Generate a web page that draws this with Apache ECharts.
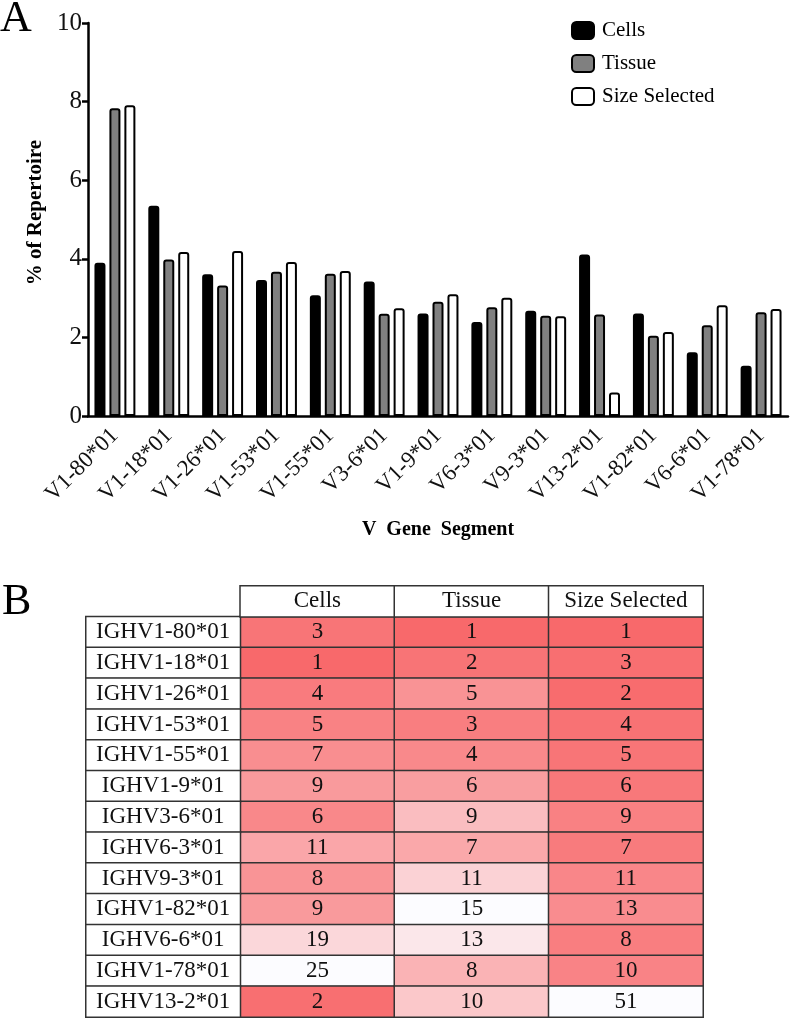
<!DOCTYPE html>
<html>
<head>
<meta charset="utf-8">
<script src="https://cdn.jsdelivr.net/npm/echarts@6/dist/echarts.min.js"></script>
<style>
  html, body { margin: 0; padding: 0; background: #fff; }
  #app { width: 793px; height: 1020px; }
</style>
</head>
<body>
<div id="app"></div>
<script>
// panel A: % of repertoire per V gene segment
const segments = ['V1-80*01', 'V1-18*01', 'V1-26*01', 'V1-53*01', 'V1-55*01', 'V3-6*01', 'V1-9*01',
  'V6-3*01', 'V9-3*01', 'V13-2*01', 'V1-82*01', 'V6-6*01', 'V1-78*01']
const cellsPct = [3.90, 5.35, 3.61, 3.46, 3.07, 3.42, 2.61, 2.39, 2.68, 4.11, 2.61, 1.62, 1.28]
const tissuePct = [7.83, 3.98, 3.32, 3.67, 3.62, 2.60, 2.91, 2.77, 2.55, 2.58, 2.04, 2.31, 2.64]
const sizePct = [7.91, 4.17, 4.20, 3.92, 3.69, 2.74, 3.10, 3.01, 2.54, 0.60, 2.14, 2.82, 2.72]
const yTicks = [0, 2, 4, 6, 8, 10]

// panel B: rank table
const rowNames = ['IGHV1-80*01', 'IGHV1-18*01', 'IGHV1-26*01', 'IGHV1-53*01', 'IGHV1-55*01', 'IGHV1-9*01',
  'IGHV3-6*01', 'IGHV6-3*01', 'IGHV9-3*01', 'IGHV1-82*01', 'IGHV6-6*01', 'IGHV1-78*01', 'IGHV13-2*01']
const colNames = ['Cells', 'Tissue', 'Size Selected']
const cellsRank = [3, 1, 4, 5, 7, 9, 6, 11, 8, 9, 19, 25, 2]
const tissueRank = [1, 2, 5, 3, 4, 6, 9, 7, 11, 15, 13, 8, 10]
const sizeRank = [1, 3, 2, 4, 5, 6, 9, 7, 11, 13, 8, 10, 51]

const serif = 'Liberation Serif'
const rankCols = [cellsRank, tissueRank, sizeRank]

function barSeries(name, data, fill) {
  return {
    name,
    type: 'bar',
    xAxisIndex: 0,
    yAxisIndex: 0,
    barWidth: 11,
    barGap: '36%',
    itemStyle: { color: fill, borderColor: '#000', borderWidth: 2, borderRadius: [2, 2, 0, 0] },
    data,
  }
}

const cellStyle = { borderColor: '#333', borderWidth: 1.5 }
const cellLabel = { show: true, color: '#111', fontFamily: serif, fontSize: 23 }

const rankSeries = rankCols.map((col, c) => ({
  name: colNames[c] + ' rank',
  type: 'heatmap',
  xAxisIndex: 1,
  yAxisIndex: 1,
  itemStyle: cellStyle,
  label: cellLabel,
  emphasis: { disabled: true },
  data: col.map((v, i) => [c + 1, i + 1, v]),
}))

const chart = echarts.init(document.getElementById('app'))
chart.setOption({
  animation: false,
  textStyle: { fontFamily: serif },
  graphic: [
    { type: 'text', left: 0, top: -3, style: { text: 'A', font: '44px "Liberation Serif"', fill: '#000' } },
    { type: 'text', left: 2, top: 580, style: { text: 'B', font: '44px "Liberation Serif"', fill: '#000' } },
  ],
  legend: {
    data: ['Cells', 'Tissue', 'Size Selected'],
    orient: 'vertical',
    left: 566,
    top: 15,
    itemWidth: 22,
    itemHeight: 17,
    itemGap: 12,
    textStyle: { fontFamily: serif, fontSize: 21, color: '#000', padding: [0, 0, 0, 3] },
  },
  grid: [
    { left: 88, right: 5, top: 23, height: 393 },
    { left: 86, top: 586, width: 617, height: 431 },
  ],
  xAxis: [
    {
      type: 'category',
      gridIndex: 0,
      data: segments,
      name: 'V  Gene  Segment',
      nameLocation: 'middle',
      nameGap: 104,
      nameTextStyle: { fontFamily: serif, fontSize: 20, fontWeight: 'bold', color: '#000' },
      axisLine: { lineStyle: { color: '#000', width: 2.5 } },
      axisTick: { alignWithLabel: true, length: 6, lineStyle: { width: 2.5, color: '#000' } },
      axisLabel: { rotate: 45, margin: 16, fontFamily: serif, fontSize: 23, color: '#111', interval: 0 },
    },
    { type: 'category', gridIndex: 1, data: [''].concat(colNames), show: false },
  ],
  yAxis: [
    {
      type: 'value',
      gridIndex: 0,
      min: yTicks[0],
      max: yTicks[yTicks.length - 1],
      interval: 2,
      name: '% of Repertoire',
      nameLocation: 'middle',
      nameGap: 35,
      nameTextStyle: { fontFamily: serif, fontSize: 21, fontWeight: 'bold', color: '#000', padding: [0, 0, 0, 14] },
      axisLine: { show: true, lineStyle: { color: '#000', width: 2.5 } },
      axisTick: { show: true, length: 6, lineStyle: { width: 2.5, color: '#000' } },
      axisLabel: { margin: 6, fontFamily: serif, fontSize: 25, color: '#111' },
      splitLine: { show: false },
    },
    { type: 'category', gridIndex: 1, data: [''].concat(rowNames), inverse: true, show: false },
  ],
  visualMap: [
    { type: 'continuous', show: false, seriesIndex: 3, dimension: 2, min: Math.min(...cellsRank), max: Math.max(...cellsRank), inRange: { color: ['#F8696B', '#FCFCFF'] } },
    { type: 'continuous', show: false, seriesIndex: 4, dimension: 2, min: Math.min(...tissueRank), max: Math.max(...tissueRank), inRange: { color: ['#F8696B', '#FCFCFF'] } },
    { type: 'continuous', show: false, seriesIndex: 5, dimension: 2, min: Math.min(...sizeRank), max: Math.max(...sizeRank), inRange: { color: ['#F8696B', '#FCFCFF'] } },
    { type: 'continuous', show: false, seriesIndex: [6, 7], dimension: 2, min: 0, max: 1, inRange: { color: ['#ffffff', '#ffffff'] } },
  ],
  series: [
    barSeries('Cells', cellsPct, '#000'),
    barSeries('Tissue', tissuePct, '#808080'),
    barSeries('Size Selected', sizePct, '#fff'),
    ...rankSeries,
    {
      name: 'row names',
      type: 'heatmap',
      xAxisIndex: 1,
      yAxisIndex: 1,
      itemStyle: cellStyle,
      label: { ...cellLabel, formatter: (p) => rowNames[p.dataIndex] },
      emphasis: { disabled: true },
      data: rowNames.map((n, i) => [0, i + 1, 0]),
    },
    {
      name: 'header',
      type: 'heatmap',
      xAxisIndex: 1,
      yAxisIndex: 1,
      itemStyle: cellStyle,
      label: { ...cellLabel, formatter: (p) => colNames[p.dataIndex] },
      emphasis: { disabled: true },
      data: colNames.map((n, c) => [c + 1, 0, 0]),
    },
  ],
})
</script>
</body>
</html>
